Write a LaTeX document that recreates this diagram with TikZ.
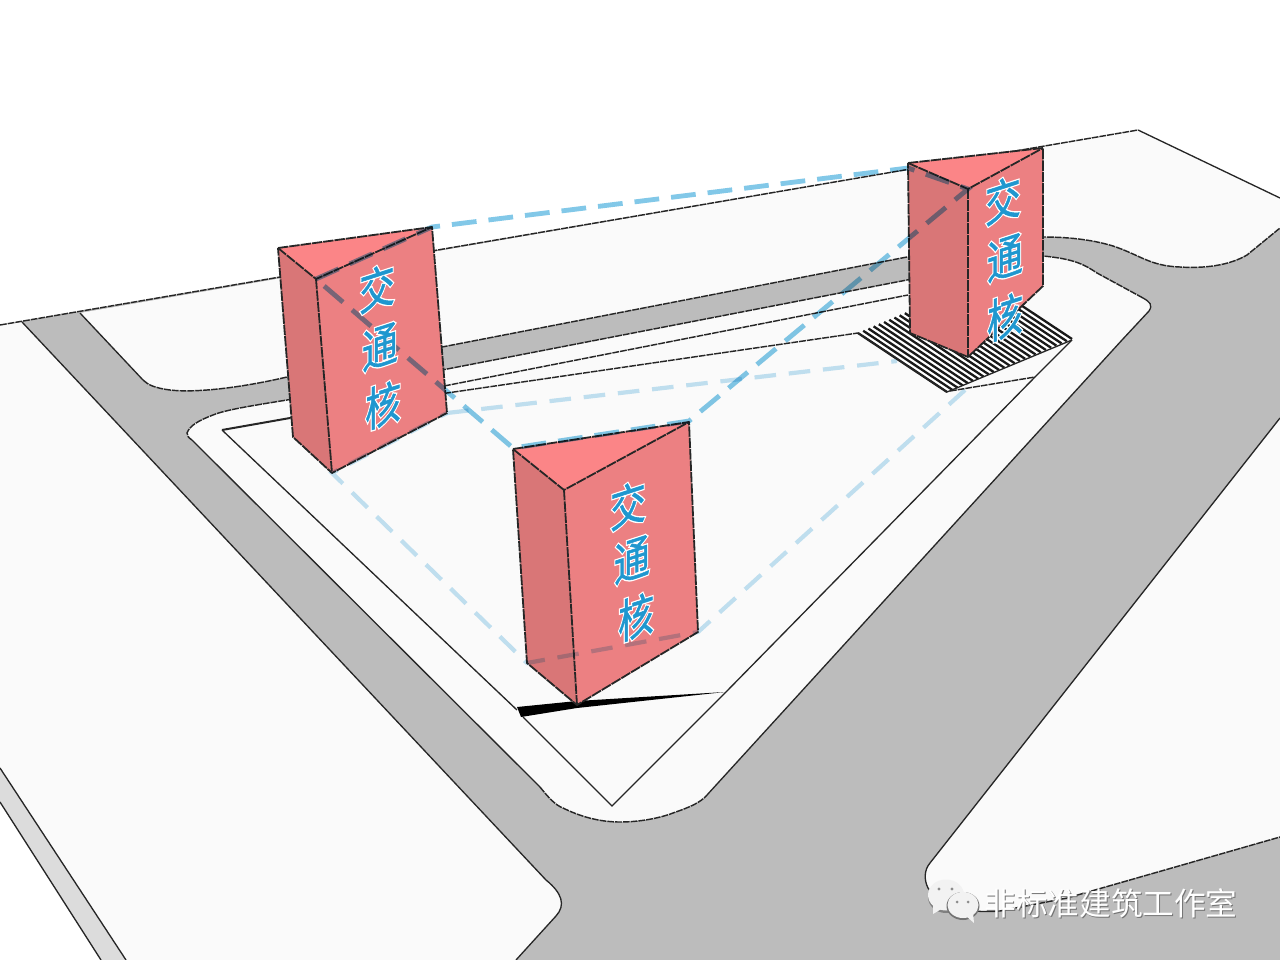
\documentclass[tikz,border=0pt]{standalone}
\usepackage{fontspec}
\newfontfamily\cjk{Noto Sans CJK SC}
\newfontfamily\cjkcore[FakeBold=1.2]{Noto Sans CJK SC}
\newfontfamily\cjkhalo[FakeBold=7]{Noto Sans CJK SC}
\definecolor{roadgray}{HTML}{BCBCBC}
\definecolor{block}{HTML}{FAFAFA}
\definecolor{strip}{HTML}{DCDCDC}
\definecolor{topface}{HTML}{FB8587}
\definecolor{frontface}{HTML}{EC8082}
\definecolor{sideface}{HTML}{D97677}
\definecolor{dashdark}{HTML}{82C8E8}
\definecolor{dashlight}{HTML}{C3E3F3}
\definecolor{corefont}{HTML}{1F97CF}
\tikzset{
  outline/.style={draw=black!85,line width=.36mm,dash pattern=on 1.7mm off .25mm},
  solidedge/.style={draw=black!85,line width=.33mm},
  towerline/.style={draw=black!85,line width=.45mm,dash pattern=on 2.6mm off .25mm,line join=round},
  toploop/.style={draw=dashdark,line width=1.2mm,dash pattern=on 6.2mm off 3mm},
  lowloop/.style={draw=dashlight,line width=1.05mm,dash pattern=on 5.4mm off 3.2mm},
  halo/.style={white,font=\cjkhalo\fontsize{33}{33}\selectfont,inner sep=0pt,xscale=.77,yslant=.25,transform shape},
  coretext/.style={corefont,font=\cjkcore\fontsize{33}{33}\selectfont,inner sep=0pt,xscale=.77,yslant=.25,transform shape},
  wm/.style={font=\cjk\fontsize{22.5}{22.5}\selectfont,inner sep=0pt},
}
\newcommand{\coreglyph}[3]{%
  \node[halo] (h#3) at (#1) {#2};
  \node[coretext] (c#3) at (#1) {#2};
}
\begin{document}
\begin{tikzpicture}[x=.25mm,y=-.25mm]
\useasboundingbox (0,0) rectangle (1280,960);
\fill[white] (0,0) rectangle (1280,960);
% ground
\fill[roadgray] (0,325) -- (1138,130) -- (1280,198) -- (1280,960) -- (0,960) -- cycle;
% lower-left strip and outside
\fill[white] (0,802) -- (101,960) -- (0,960) -- cycle;
\fill[strip] (0,768) -- (126,960) -- (101,960) -- (0,802) -- cycle;
% left block
\fill[block] (0,325) -- (22,322) -- (546,880) .. controls (562,893) and (566,905) .. (556,916) -- (516,960) -- (126,960) -- (0,768) -- cycle;
\draw[solidedge] (22,322) -- (546,880) .. controls (562,893) and (566,905) .. (556,916) -- (516,960);
\draw[solidedge] (0,768) -- (126,960);
\draw[solidedge] (0,802) -- (101,960);
% top block
\fill[block] (80,313) -- (1138,130) -- (1280,198) -- (1280,228) -- (1247,255) .. controls (1225,268) and (1195,268) .. (1180,267) .. controls (1150,266) and (1140,255) .. (1113,246) .. controls (1090,239) and (1065,237) .. (1043,237) -- (907,257) -- (287,377) .. controls (240,388) and (195,393) .. (170,390) .. controls (155,388) and (148,385) .. (143,380) -- cycle;
\draw[solidedge] (80,313) -- (143,380);
\draw[outline] (143,380) .. controls (148,385) and (155,388) .. (170,390) .. controls (195,393) and (240,388) .. (287,377) -- (907,257) -- (1043,237) .. controls (1065,237) and (1090,239) .. (1113,246) .. controls (1140,255) and (1150,266) .. (1180,267) .. controls (1195,268) and (1225,268) .. (1247,255) -- (1280,228);
\draw[outline] (0,325) -- (1138,130);
\draw[solidedge] (1138,130) -- (1280,198);
% lower-right block
\fill[block] (1280,418) -- (930,863) .. controls (924,870) and (924,880) .. (928,888) .. controls (940,905) and (965,914) .. (1000,911) -- (1067,898) -- (1280,837) -- cycle;
\draw[solidedge] (1280,418) -- (930,863) .. controls (924,870) and (924,880) .. (928,888) .. controls (940,905) and (965,914) .. (1000,911);
\draw[outline] (1000,911) -- (1067,898) -- (1280,837);
% central block
\fill[block] (192,440) -- (540,787) .. controls (548,797) and (555,805) .. (563,808) .. controls (585,819) and (605,822) .. (620,822) .. controls (640,822) and (660,818) .. (673,813) .. controls (690,807) and (700,803) .. (707,795) -- (1122,340) -- (1149,311) .. controls (1153,305) and (1150,302) .. (1143,298) -- (1097,273) .. controls (1085,265) and (1075,259) .. (1043,256) -- (907,280) -- (287,400) .. controls (250,406) and (225,410) .. (213,415) .. controls (200,420) and (190,425) .. (187,433) .. controls (187,436) and (189,438) .. (192,440) -- cycle;
\draw[solidedge] (192,440) -- (540,787);
\draw[outline] (540,787) .. controls (548,797) and (555,805) .. (563,808) .. controls (585,819) and (605,822) .. (620,822) .. controls (640,822) and (660,818) .. (673,813) .. controls (690,807) and (700,803) .. (707,795);
\draw[solidedge] (707,795) -- (1122,340) -- (1149,311) .. controls (1153,305) and (1150,302) .. (1143,298);
\draw[outline] (1143,298) -- (1097,273) .. controls (1085,265) and (1075,259) .. (1043,256) -- (907,280) -- (287,400) .. controls (250,406) and (225,410) .. (213,415) .. controls (200,420) and (190,425) .. (187,433) .. controls (187,436) and (189,438) .. (192,440);
% inner triangle and parallel lines
\draw[solidedge] (517,710) -- (222,430);
\draw[solidedge,line width=.5mm] (222,430) -- (290,418);
\draw[outline] (290,418) -- (447,393) -- (858,333);
\draw[outline] (444,386) -- (908,295);
\draw[solidedge] (523,717) -- (612,806) -- (725,693) -- (1035,377) -- (1072,340);
\draw[outline] (950,391) -- (1035,377);
% wedge
\fill[black] (517,707) -- (577,701) -- (725,692) -- (577,708) -- (521,717) -- cycle;
% hatch
\fill[white] (858,333) -- (983,279) -- (1072,340) -- (947,392) -- cycle;
\foreach \i in {0,...,24}{
  \pgfmathsetmacro{\t}{\i/24}
  \draw[black!90,line width=.58mm] ({858+125*\t},{333-53*\t}) -- ({947+125*\t},{392-53*\t});
}
\draw[solidedge] (858,333) -- (947,392) -- (1072,340);
% towers
\fill[sideface] (278,248) -- (316,279) -- (332,473) -- (293,437) -- cycle;
\fill[frontface] (316,279) -- (432,227) -- (447,413) -- (332,473) -- cycle;
\fill[topface] (278,248) -- (432,227) -- (316,279) -- cycle;
\draw[towerline] (278,248) -- (432,227) -- (447,413) -- (332,473) -- (293,437) -- cycle;
\draw[towerline] (278,248) -- (316,279) -- (432,227);
\draw[towerline] (316,279) -- (332,473);

\fill[sideface] (908,163) -- (968,189) -- (968,357) -- (910,333) -- cycle;
\fill[frontface] (968,189) -- (1043,148) -- (1043,286) -- (968,357) -- cycle;
\fill[topface] (908,163) -- (1043,148) -- (968,189) -- cycle;
\draw[towerline] (908,163) -- (1043,148) -- (1043,286) -- (968,357) -- (910,333) -- cycle;
\draw[towerline] (908,163) -- (968,189) -- (1043,148);
\draw[towerline] (968,189) -- (968,357);

\fill[sideface] (513,449) -- (564,490) -- (577,705) -- (527,663) -- cycle;
\fill[frontface] (564,490) -- (689,422) -- (698,632) -- (577,705) -- cycle;
\fill[topface] (513,449) -- (689,422) -- (564,490) -- cycle;
\draw[towerline] (513,449) -- (689,422) -- (698,632) -- (577,705) -- (527,663) -- cycle;
\draw[towerline] (513,449) -- (564,490) -- (689,422);
\draw[towerline] (564,490) -- (577,705);
% dashed loops
\begin{scope}[blend mode=multiply]
\draw[lowloop] (447,413) -- (897,361);
\draw[lowloop] (965,390) -- (698,632) -- (527,663) -- (332,473) -- (447,413);
\draw[toploop] (316,279) -- (432,227) -- (908,168) -- (968,189) -- (689,421) -- (513,448) -- cycle;
\end{scope}
% lettering
\coreglyph{377,288}{交}{a1}
\coreglyph{380,347}{通}{a2}
\coreglyph{383,405}{核}{a3}
\coreglyph{1003,200}{交}{b1}
\coreglyph{1005,258}{通}{b2}
\coreglyph{1005,317}{核}{b3}
\coreglyph{628,505}{交}{c1}
\coreglyph{632,560}{通}{c2}
\coreglyph{636,617}{核}{c3}
% watermark
\fill[black!50] (946,897) ellipse (18 and 16);
\fill[white!95!black] (946,895) ellipse (18 and 15.5);
\fill[white!95!black] (933,905) -- (933,914) -- (943,908) -- cycle;
\fill[black!55] (963,906) ellipse (16.5 and 14);
\fill[white!95!black] (963,905) ellipse (15.5 and 13);
\fill[white!95!black] (965,915) -- (974,923) -- (973,912) -- cycle;
\fill[black!45] (939,889) circle (1.6) (952,889) circle (1.6) (957,902) circle (1.5) (968,902) circle (1.5);
\node[wm,black!55] (wmshadow) at (1112,904) {非标准建筑工作室};
\node[wm,white] (wmtext) at (1111,903) {非标准建筑工作室};
\end{tikzpicture}
\end{document}
